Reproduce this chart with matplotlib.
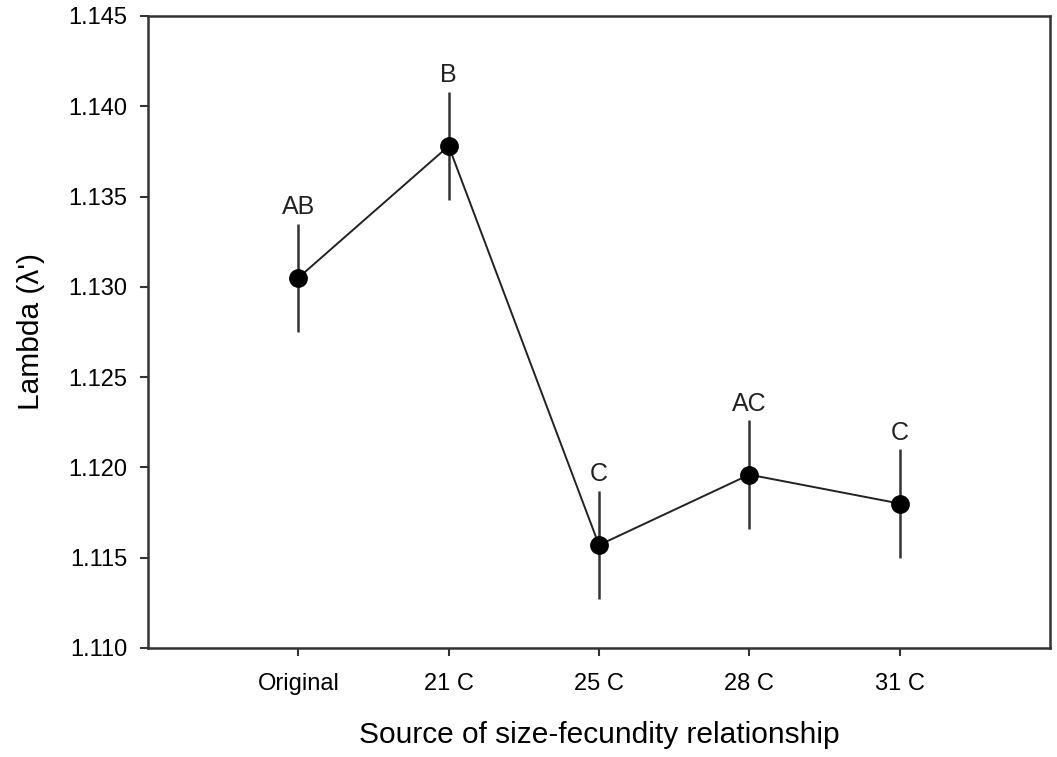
import matplotlib
matplotlib.use("Agg")
import matplotlib.pyplot as plt

categories = ["Original", "21 C", "25 C", "28 C", "31 C"]
lambda_values = [1.1305, 1.1378, 1.1157, 1.1196, 1.1180]
errors = [0.0030, 0.0030, 0.0030, 0.0030, 0.0030]
letters = ["AB", "B", "C", "AC", "C"]
yticks = [1.110, 1.115, 1.120, 1.125, 1.130, 1.135, 1.140, 1.145]

plt.rcParams['font.family'] = ['Liberation Sans', 'DejaVu Sans']

fig = plt.figure(figsize=(10.57, 7.57), dpi=100)
ax = fig.add_axes([148/1057, 1-648/757, (1050-148)/1057, (648-16)/757])

x = list(range(1, len(categories) + 1))
ax.errorbar(x, lambda_values, yerr=errors, fmt='none', ecolor='#333333',
            elinewidth=1.8, capsize=0, zorder=2)
ax.plot(x, lambda_values, color='#222222', linewidth=1.4, zorder=3)
ax.plot(x, lambda_values, 'o', color='black', markersize=12.5, zorder=4)

for xi, v, e, lab in zip(x, lambda_values, errors, letters):
    ax.annotate(lab, (xi, v + e), xytext=(0, 7), textcoords='offset points',
                ha='center', va='baseline', fontsize=18, color='#222222')

ax.set_xlim(0, 6)
ax.set_ylim(1.110, 1.145)
ax.set_xticks(x)
ax.set_xticklabels(categories)
ax.set_yticks(yticks)
ax.set_yticklabels([f"{t:.3f}" for t in yticks])

for s in ax.spines.values():
    s.set_linewidth(1.8)
    s.set_color('#333333')

ax.tick_params(axis='both', direction='out', length=6, width=1.5, color='#333333',
               top=False, right=False)
ax.tick_params(axis='y', labelsize=17, pad=9)
ax.tick_params(axis='x', labelsize=17, pad=12)

ax.set_xlabel("Source of size-fecundity relationship", fontsize=21.5, labelpad=19)
ax.set_ylabel("Lambda (λ')", fontsize=21.5, labelpad=17)

fig.savefig("out.png", dpi=100)
